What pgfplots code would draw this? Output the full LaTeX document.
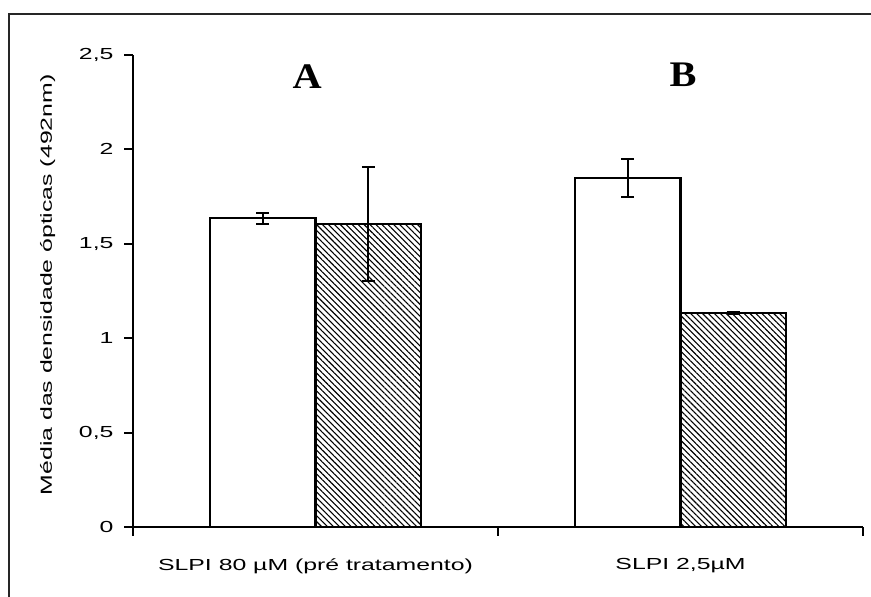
\documentclass[border=0pt]{standalone}
\usepackage{fontspec}
\setmainfont{Liberation Sans}[FakeStretch=1.55]
\newfontfamily\abfont{Liberation Serif}[FakeStretch=1.12]
\usepackage{pgfplots}
\pgfplotsset{compat=1.18}
\usetikzlibrary{patterns.meta}

\begin{document}
\begin{tikzpicture}[x=1pt,y=1pt]
\clip (0,0) rectangle (871,597);
\fill[white] (0,0) rectangle (871,597);
\draw[line width=2.2pt, black!85] (9,-20) -- (9,583) -- (900,583);
\begin{axis}[
  at={(133pt,70pt)}, anchor=south west,
  scale only axis, width=730pt, height=472pt,
  xmin=-0.5, xmax=1.5, ymin=0, ymax=2.5,
  clip=false,
  axis x line=bottom, axis y line=left,
  axis line style={-, line width=2pt, black},
  xtick={-0.5,0.5,1.5}, xticklabels={},
  ytick={0,0.5,1,1.5,2,2.5}, yticklabels={0,{0,5},1,{1,5},2,{2,5}},
  tick align=outside, major tick length=9pt,
  tick style={line width=2pt, black},
  yticklabel style={xshift=-7pt},
  extra x ticks={0,1},
  extra x tick labels={{SLPI 80 µM (pré tratamento)},{SLPI 2,5µM}},
  extra x tick style={major tick length=0pt, tick style={draw=none},
     xticklabel style={yshift=-28pt}},
  ticklabel style={font=\fontsize{16}{19}\selectfont},
  label style={font=\fontsize{16}{19}\selectfont},
  ylabel={Média das densidade ópticas (492nm)},
  ylabel style={at={(axis description cs:-0.117,0.513)}, anchor=center},
  ybar=0pt, bar width=0.29,
]
\addplot[draw=black, fill=white, line width=2.2pt,
  error bars/.cd, y dir=both, y explicit,
  error bar style={line width=2pt, black},
  error mark options={rotate=90, mark size=6.5pt, line width=2pt, black}]
  coordinates {(0,1.635) +- (0,0.03) (1,1.85) +- (0,0.1)};
\addplot[draw=black, line width=2.2pt,
  pattern={Lines[angle=-45,distance=4.2pt,line width=1.1pt]},
  error bars/.cd, y dir=both, y explicit,
  error bar style={line width=2pt, black},
  error mark options={rotate=90, mark size=6.5pt, line width=2pt, black}]
  coordinates {(0,1.605) +- (0,0.3) (1,1.135) +- (0,0.006)};
\node[font=\abfont\bfseries\fontsize{36}{40}\selectfont] at (axis cs:-0.023,2.383) {A};
\node[font=\abfont\bfseries\fontsize{36}{40}\selectfont] at (axis cs:1.007,2.394) {B};
\end{axis}
\end{tikzpicture}
\end{document}
